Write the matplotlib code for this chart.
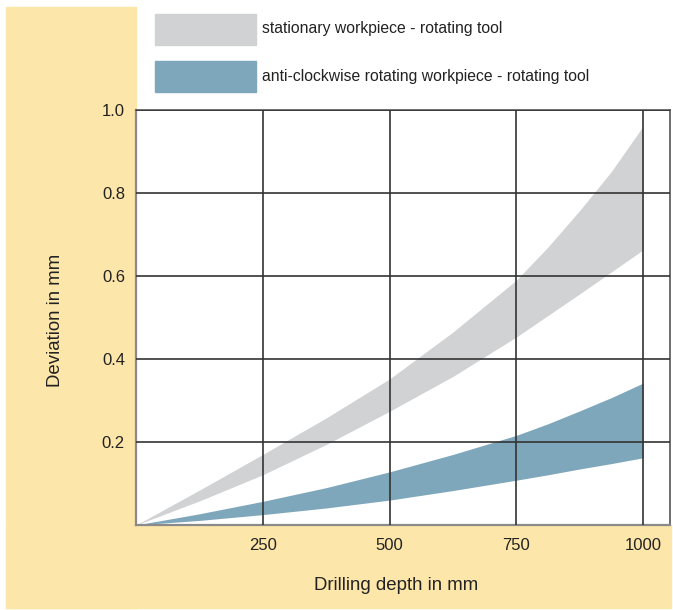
import matplotlib
matplotlib.use('Agg')
import matplotlib.pyplot as plt
from matplotlib.patches import Rectangle

plt.rcParams['font.family'] = ['Liberation Sans', 'DejaVu Sans']

# values
depth = [0, 125, 250, 375, 500, 625, 750, 812.5, 875, 937.5, 1000]
stat_low = [0, 0.058, 0.121, 0.194, 0.274, 0.358, 0.453, 0.505, 0.557, 0.610, 0.663]
stat_high = [0, 0.084, 0.170, 0.258, 0.352, 0.465, 0.590, 0.670, 0.758, 0.852, 0.961]
rot_low = [0, 0.011, 0.025, 0.041, 0.060, 0.083, 0.108, 0.121, 0.135, 0.148, 0.162]
rot_high = [0, 0.027, 0.057, 0.090, 0.128, 0.170, 0.216, 0.244, 0.275, 0.307, 0.342]

x_ticks = [250, 500, 750, 1000]
y_ticks = [0.2, 0.4, 0.6, 0.8, 1.0]
legend_labels = ['stationary workpiece - rotating tool',
                 'anti-clockwise rotating workpiece - rotating tool']

GREY = '#d1d2d4'
BLUE = '#7fa7bb'
YELLOW = '#fde6a9'
TXT = '#222222'
W, H = 673, 610


def fx(px):
    return px / W


def fy(py):
    return 1 - py / H


fig = plt.figure(figsize=(W / 100, H / 100), dpi=100)

# yellow L-shaped background (behind the axes)
fig.patches.append(Rectangle((fx(6), fy(608)), fx(136) - fx(6), fy(7) - fy(608),
                             transform=fig.transFigure, color=YELLOW, zorder=-2))
fig.patches.append(Rectangle((fx(6), fy(608)), fx(671) - fx(6), fy(525) - fy(608),
                             transform=fig.transFigure, color=YELLOW, zorder=-2))

ax = fig.add_axes([fx(136), fy(525), fx(670) - fx(136), fy(110) - fy(525)])
ax.set_facecolor('white')
ax.fill_between(depth, stat_low, stat_high, color=GREY, lw=0, zorder=1)
ax.fill_between(depth, rot_low, rot_high, color=BLUE, lw=0, zorder=1)

ax.set_xlim(0, 1053)
ax.set_ylim(0, 1.0)
ax.set_xticks(x_ticks)
ax.set_yticks(y_ticks)
ax.set_xticklabels([str(v) for v in x_ticks])
ax.set_yticklabels([f'{v:.1f}' for v in y_ticks])
ax.tick_params(length=0, labelsize=12, colors=TXT)
ax.tick_params(axis='y', pad=8)
ax.tick_params(axis='x', pad=9)
ax.grid(True, color='#333333', lw=1.2, zorder=2)
ax.set_axisbelow(False)
for side in ['left', 'bottom']:
    ax.spines[side].set_color('#8a8a8a')
    ax.spines[side].set_linewidth(1.6)
for side in ['top', 'right']:
    ax.spines[side].set_color('#555555')
    ax.spines[side].set_linewidth(1.2)

fig.text(fx(56), fy(320), 'Deviation in mm', rotation=90, ha='center', va='center',
         fontsize=13.4, color=TXT)
fig.text(fx(396), fy(586), 'Drilling depth in mm', ha='center', va='center',
         fontsize=13.4, color=TXT)

# legend boxes
for (top, col, lab) in [(14, GREY, legend_labels[0]), (61, BLUE, legend_labels[1])]:
    fig.patches.append(Rectangle((fx(155), fy(top + 31)), fx(256) - fx(155), fy(top) - fy(top + 31),
                                 transform=fig.transFigure, color=col, zorder=1))
    fig.text(fx(262), fy(top + 15), lab, ha='left', va='center', fontsize=11.3, color=TXT)

fig.savefig('out.png', dpi=100)
